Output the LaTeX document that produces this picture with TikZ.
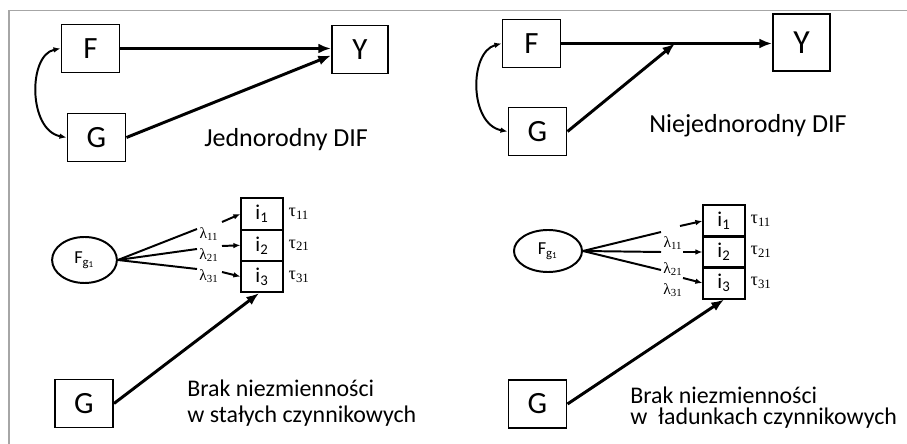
\documentclass[tikz,border=0pt]{standalone}
\usepackage{fontspec}
\setmainfont{Carlito}
\newfontfamily\greekfont{Liberation Serif}
\usetikzlibrary{arrows.meta,calc,positioning,shapes.geometric}
\newcommand\lamlab[1]{{\greekfont λ\textsubscript{#1}}}
\newcommand\taulab[1]{{\greekfont τ\textsubscript{#1}}}
\newcommand\tightlines{\lineskiplimit=-50pt\relax}

\begin{document}
\begin{tikzpicture}[x=0.025cm,y=-0.025cm,
  obs/.style={draw,line width=1.4pt,minimum width=1.45cm,minimum height=1.2cm,inner sep=0pt,font=\fontsize{22}{26}\selectfont},
  latent/.style={draw,ellipse,line width=1.4pt,inner sep=0pt,font=\fontsize{13}{15}\selectfont},
  cell/.style={draw,line width=1.4pt,minimum width=1.03cm,minimum height=0.78cm,inner sep=0pt,font=\fontsize{15}{17}\selectfont},
  effect/.style={line width=2.1pt,-{Latex[length=9pt,width=7pt]}},
  corr/.style={line width=1.4pt,{Latex[length=5pt,width=4pt]}-{Latex[length=5pt,width=4pt]}},
  load/.style={line width=1.4pt},
  short/.style={line width=1.4pt,-{Latex[length=5pt,width=4pt]}},
  lam/.style={font=\fontsize{11}{13}\selectfont,inner sep=0pt},
  tau/.style={font=\fontsize{13}{15}\selectfont,inner sep=0pt,anchor=west},
  note/.style={align=left,inner sep=0pt,anchor=base west}]
  \useasboundingbox (0,0) rectangle (907,444);
  \draw[gray!70,line width=0.8pt] (9,444) -- (9,10.5) -- (907,10.5);

  % jednorodny DIF
  \node[obs] (F1) at (90.5,48.5) {F};
  \node[obs,minimum width=1.4cm] (Y1) at (360,49.5) {Y};
  \node[obs] (G1) at (96.5,137.5) {G};
  \draw[effect] (F1.east) -- (F1.east -| Y1.west);
  \draw[effect] (G1.east) -- ($(Y1.west)+(0,6)$);
  \draw[corr] (F1.west) .. controls (28,55) and (28,130) .. (G1.west);
  \node[note,font=\fontsize{18.5}{20}\selectfont] (t1) at (204,147) {Jednorodny DIF};

  % niejednorodny DIF
  \node[obs] (F2) at (531.5,43.5) {F};
  \node[obs,minimum height=1.42cm,minimum width=1.42cm,font=\fontsize{24}{28}\selectfont] (Y2) at (801.5,42.5) {Y};
  \node[obs] (G2) at (537.5,131.5) {G};
  \coordinate (m2) at (675,43.5);
  \draw[effect] (F2.east) -- (F2.east -| Y2.west);
  \draw[effect] (G2.east) -- (m2);
  \draw[corr] (F2.west) .. controls (469,52) and (469,124) .. (G2.west);
  \node[note,font=\fontsize{18.5}{20}\selectfont] (t2) at (649,133) {Niejednorodny DIF};

  % stale czynnikowe
  \node[latent,minimum width=1.62cm,minimum height=1.15cm] (Fg3) at (84.5,260) {F\textsubscript{g\textsubscript{1}}};
  \node[cell] (i31) at (262,214) {i\textsubscript{1}};
  \node[cell] (i32) at (262,245.3) {i\textsubscript{2}};
  \node[cell] (i33) at (262,276.6) {i\textsubscript{3}};
  \node[tau,right=0.12cm of i31] (tau31) {\taulab{11}};
  \node[tau,right=0.12cm of i32] (tau32) {\taulab{21}};
  \node[tau,right=0.12cm of i33] (tau33) {\taulab{31}};
  \node[lam] (l31) at (209,234) {\lamlab{11}};
  \node[lam] (l32) at (209,255) {\lamlab{21}};
  \node[lam] (l33) at (209,276) {\lamlab{31}};
  \coordinate (a31) at (197,229);
  \coordinate (a32) at (197,249);
  \coordinate (a33) at (197,269);
  \coordinate (b31) at (222,222);
  \coordinate (b32) at (222,246);
  \coordinate (b33) at (222,272);
  \draw[load] (Fg3.east) -- (a31);
  \draw[load] (Fg3.east) -- (a32);
  \draw[load] (Fg3.east) -- (a33);
  \draw[short] (b31) -- (i31.west);
  \draw[short] (b32) -- (i32.west);
  \draw[short] (b33) -- (i33.west);
  \node[obs] (G3) at (84,403.5) {G};
  \draw[effect] (G3.east) -- ($(i33.south)+(-3,0)$);
  \node[note,font=\fontsize{17}{18.6}\selectfont\tightlines] (t3) at (187,423) {Brak niezmienności\\w stałych czynnikowych};

  % ladunki czynnikowe
  \node[latent,minimum width=1.7cm,minimum height=1.05cm] (Fg4) at (548,251) {F\textsubscript{g\textsubscript{1}}};
  \node[cell] (i41) at (724,221) {i\textsubscript{1}};
  \node[cell] (i42) at (724,252) {i\textsubscript{2}};
  \node[cell] (i43) at (724,283) {i\textsubscript{3}};
  \node[tau,right=0.12cm of i41] (tau41) {\taulab{11}};
  \node[tau,right=0.12cm of i42] (tau42) {\taulab{21}};
  \node[tau,right=0.12cm of i43] (tau43) {\taulab{31}};
  \node[lam] (l41) at (673,243) {\lamlab{11}};
  \node[lam] (l42) at (673,269) {\lamlab{21}};
  \node[lam] (l43) at (673,290) {\lamlab{31}};
  \coordinate (a41) at (661,232);
  \coordinate (a42) at (661,252);
  \coordinate (a43) at (661,270);
  \coordinate (b41) at (680,226);
  \coordinate (b42) at (683,252);
  \coordinate (b43) at (683,278);
  \draw[load] (Fg4.east) -- (a41);
  \draw[load] (Fg4.east) -- (a42);
  \draw[load] (Fg4.east) -- (a43);
  \draw[short] (b41) -- (i41.west);
  \draw[short] (b42) -- (i42.west);
  \draw[short] (b43) -- (i43.west);
  \node[obs] (G4) at (537.5,404) {G};
  \draw[effect] (G4.east) -- (i43.south);
  \node[note,font=\fontsize{17}{15.5}\selectfont\tightlines] (t4) at (630,425) {Brak niezmienności\\w\ \ ładunkach czynnikowych};
\end{tikzpicture}
\end{document}
